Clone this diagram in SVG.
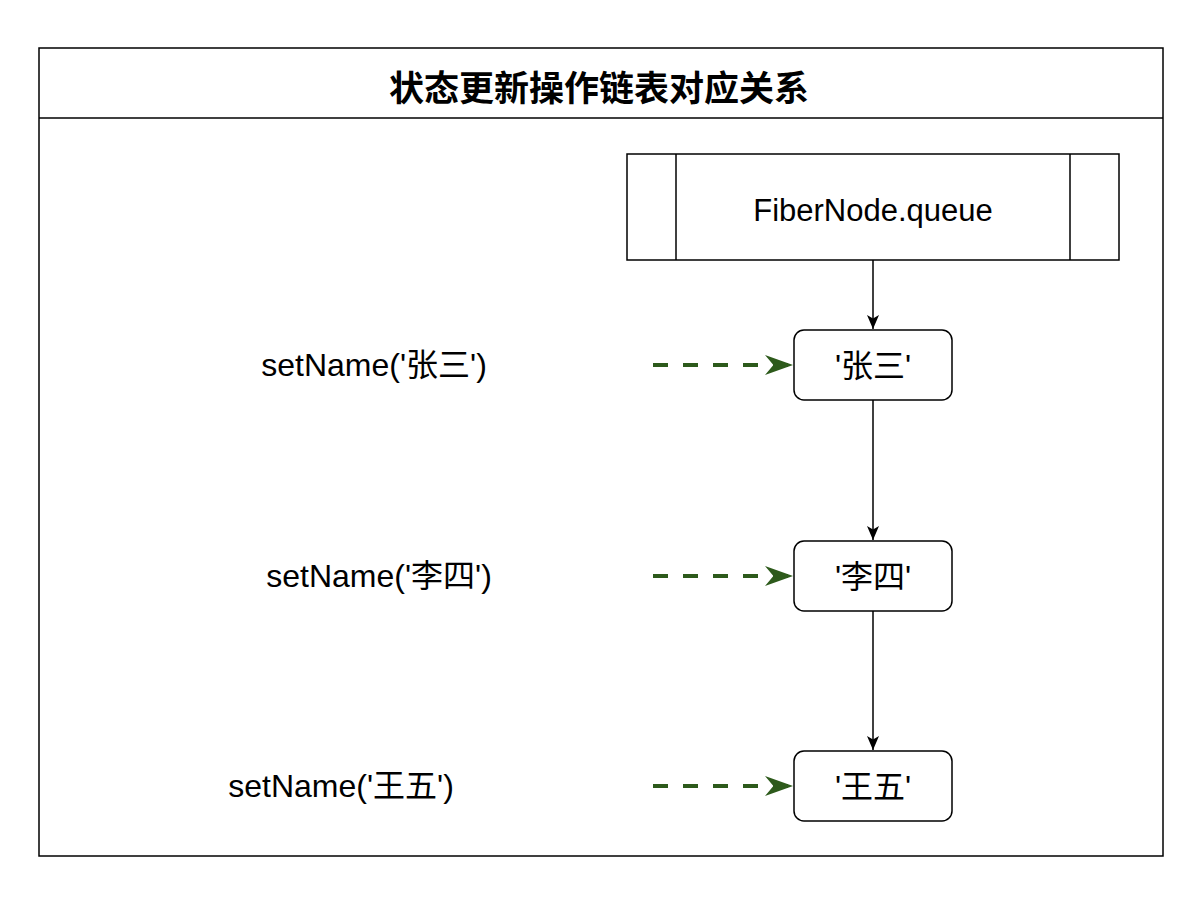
<svg xmlns="http://www.w3.org/2000/svg" width="1194" height="904" viewBox="0 0 1194 904">
<defs>
<style>
.t{font-family:"Liberation Sans","Noto Sans CJK SC",sans-serif;font-size:32px;fill:#000;text-anchor:middle;dominant-baseline:central}
.box{fill:#fff;stroke:#000;stroke-width:1.5}
.edge{fill:none;stroke:#000;stroke-width:1.5}
.dash{fill:none;stroke:#2D5A1B;stroke-width:4;stroke-dasharray:15 15}
</style>
<marker id="ah" viewBox="0 0 10 10" refX="10" refY="5" markerWidth="14" markerHeight="12" markerUnits="userSpaceOnUse" orient="auto" preserveAspectRatio="none">
<path d="M0,0 L10,5 L0,10 L2.5,5 Z" fill="#000"/>
</marker>
<marker id="gh" viewBox="0 0 10 10" refX="10" refY="5" markerWidth="28" markerHeight="20" markerUnits="userSpaceOnUse" orient="auto" preserveAspectRatio="none">
<path d="M0,0 L10,5 L0,10 L3,5 Z" fill="#2D5A1B"/>
</marker>
</defs>
<rect width="1194" height="904" fill="#fff"/>
<g id="frame">
<rect x="39" y="48" width="1124" height="808" class="box"/>
<line x1="39" y1="118" x2="1163" y2="118" stroke="#000" stroke-width="1.5"/>
<text x="599" y="88" class="t" style="font-size:35px;font-weight:bold">状态更新操作链表对应关系</text>
</g>
<g id="fibernode">
<rect x="627" y="154" width="492" height="106" class="box"/>
<line x1="676" y1="154" x2="676" y2="260" stroke="#000" stroke-width="1.5"/>
<line x1="1070" y1="154" x2="1070" y2="260" stroke="#000" stroke-width="1.5"/>
<text x="873" y="210" class="t" style="font-size:31px">FiberNode.queue</text>
</g>
<g id="n1">
<rect x="794" y="330" width="158" height="70" rx="10" class="box"/>
<text x="873" y="366" class="t">'张三'</text>
</g>
<g id="n2">
<rect x="794" y="541" width="158" height="70" rx="10" class="box"/>
<text x="873" y="577" class="t">'李四'</text>
</g>
<g id="n3">
<rect x="794" y="751" width="158" height="70" rx="10" class="box"/>
<text x="873" y="787" class="t">'王五'</text>
</g>
<g id="l1"><text x="374" y="365" class="t">setName('张三')</text></g>
<g id="l2"><text x="379" y="576" class="t">setName('李四')</text></g>
<g id="l3"><text x="341" y="786" class="t">setName('王五')</text></g>
<g id="connectors">
<line x1="873" y1="260" x2="873" y2="329" class="edge" marker-end="url(#ah)"/>
<line x1="873" y1="400" x2="873" y2="540" class="edge" marker-end="url(#ah)"/>
<line x1="873" y1="611" x2="873" y2="750" class="edge" marker-end="url(#ah)"/>
<line x1="653" y1="365" x2="793" y2="365" class="dash" marker-end="url(#gh)"/>
<line x1="653" y1="576" x2="793" y2="576" class="dash" marker-end="url(#gh)"/>
<line x1="653" y1="786" x2="793" y2="786" class="dash" marker-end="url(#gh)"/>
</g>
</svg>
